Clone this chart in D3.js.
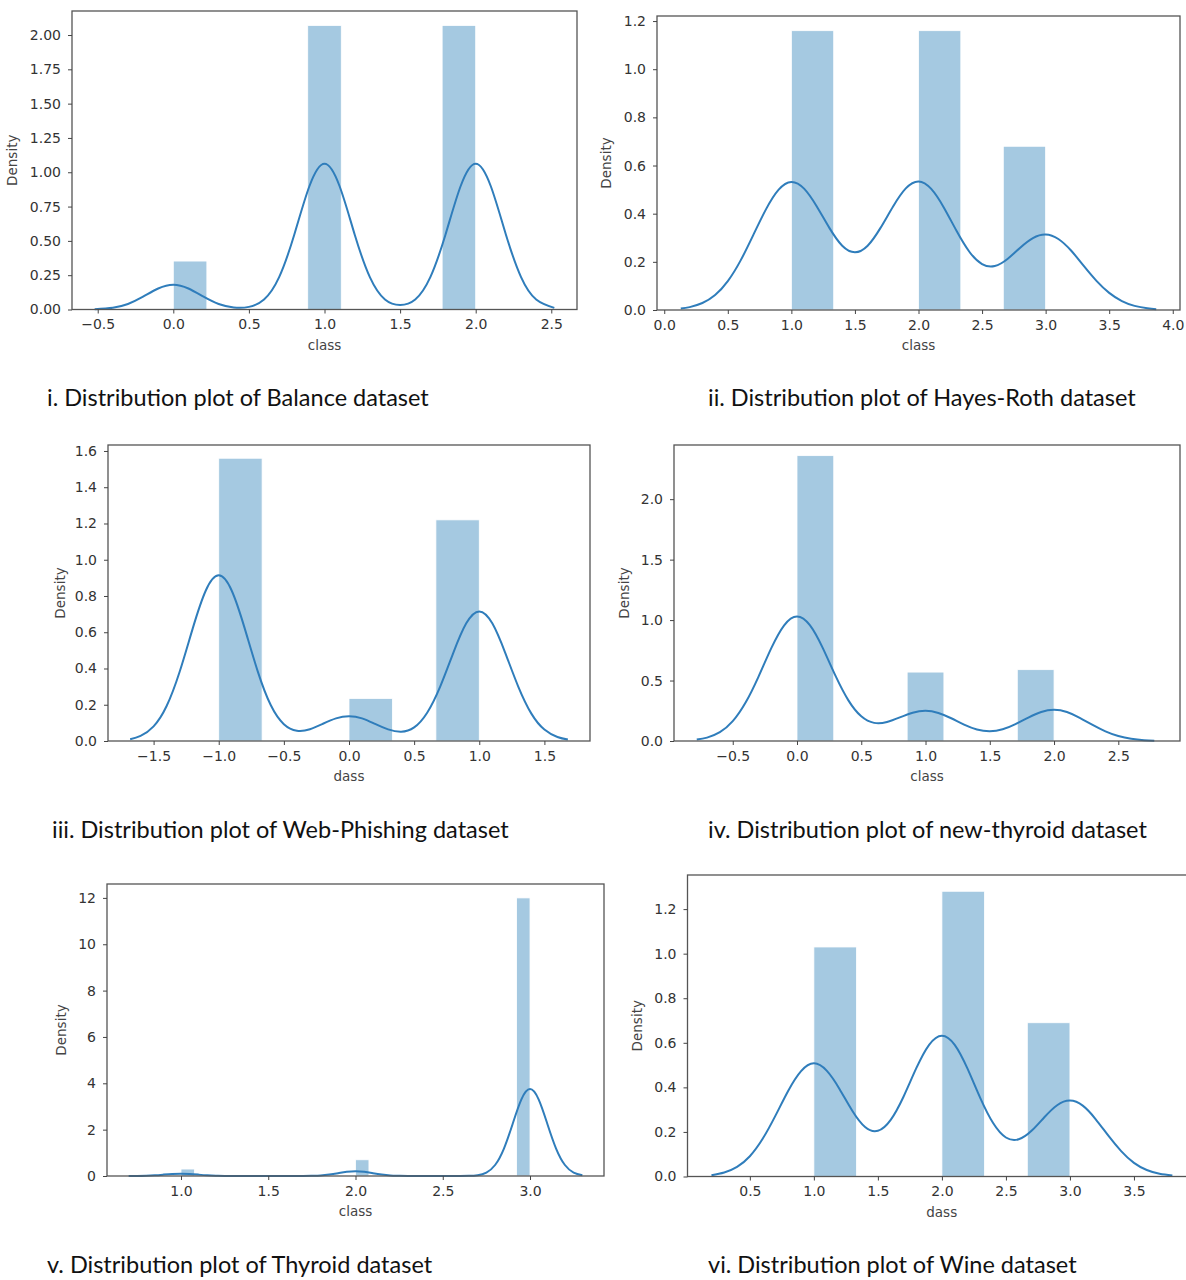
<!DOCTYPE html>
<html>
<head>
<meta charset="utf-8">
<script src="https://cdn.jsdelivr.net/npm/d3@7"></script>
<style>
  body { margin: 0; background: #fff; }
  .tick text { font-family: "DejaVu Sans", sans-serif; font-size: 14px; fill: #333; }
  .axlabel { font-family: "DejaVu Sans", sans-serif; font-size: 13.5px; fill: #444; }
  .caption { font-family: Lato, "Open Sans", sans-serif; font-size: 23.5px; fill: #111; }
</style>
</head>
<body>
<script>
// ---- data ----

// i. Balance
const balanceBins = [[0, 0.222], [0.889, 1.111], [1.778, 2.0]];
const balanceHeights = [0.353, 2.07, 2.07];
const balanceKde = [[-0.52, 0.002], [-0.4, 0.013], [-0.3, 0.040], [-0.2, 0.093], [-0.1, 0.153], [0, 0.181],
  [0.1, 0.153], [0.2, 0.093], [0.3, 0.040], [0.4, 0.015], [0.5, 0.019], [0.6, 0.073], [0.7, 0.236],
  [0.8, 0.545], [0.9, 0.898], [1.0, 1.062], [1.1, 0.898], [1.2, 0.545], [1.3, 0.236], [1.4, 0.073],
  [1.5, 0.033], [1.6, 0.073], [1.7, 0.236], [1.8, 0.545], [1.9, 0.898], [2.0, 1.062], [2.1, 0.898],
  [2.2, 0.545], [2.3, 0.236], [2.4, 0.073], [2.52, 0.012]];
const balanceXTicks = [-0.5, 0, 0.5, 1, 1.5, 2, 2.5];
const balanceYTicks = [0, 0.25, 0.5, 0.75, 1, 1.25, 1.5, 1.75, 2];

// ii. Hayes-Roth
const hayesBins = [[1, 1.333], [2, 2.333], [2.667, 3]];
const hayesHeights = [1.16, 1.16, 0.68];
const hayesKde = [[0.13, 0.006], [0.2, 0.012], [0.3, 0.029], [0.4, 0.062], [0.5, 0.120], [0.6, 0.205],
  [0.7, 0.311], [0.8, 0.418], [0.9, 0.500], [1.0, 0.532], [1.1, 0.504], [1.2, 0.430], [1.3, 0.340],
  [1.4, 0.267], [1.5, 0.240], [1.6, 0.267], [1.7, 0.340], [1.8, 0.430], [1.9, 0.505], [2.0, 0.534],
  [2.1, 0.503], [2.2, 0.425], [2.3, 0.328], [2.4, 0.242], [2.5, 0.191], [2.6, 0.183], [2.7, 0.212],
  [2.8, 0.259], [2.9, 0.299], [3.0, 0.314], [3.1, 0.295], [3.2, 0.247], [3.3, 0.183], [3.4, 0.121],
  [3.5, 0.071], [3.6, 0.037], [3.7, 0.017], [3.8, 0.007], [3.87, 0.0035]];
const hayesXTicks = [0, 0.5, 1, 1.5, 2, 2.5, 3, 3.5, 4];
const hayesYTicks = [0, 0.2, 0.4, 0.6, 0.8, 1.0, 1.2];

// iii. Web-Phishing
const phishBins = [[-1, -0.667], [0, 0.333], [0.667, 1]];
const phishHeights = [1.56, 0.235, 1.22];
const phishKde = [[-1.68, 0.010], [-1.6, 0.028], [-1.5, 0.081], [-1.4, 0.193], [-1.3, 0.382], [-1.2, 0.620],
  [-1.1, 0.829], [-1.0, 0.914], [-0.9, 0.829], [-0.8, 0.620], [-0.7, 0.383], [-0.6, 0.197], [-0.5, 0.093],
  [-0.4, 0.057], [-0.3, 0.065], [-0.2, 0.095], [-0.1, 0.125], [0, 0.137], [0.1, 0.125], [0.2, 0.094],
  [0.3, 0.064], [0.4, 0.051], [0.5, 0.075], [0.6, 0.156], [0.7, 0.300], [0.8, 0.485], [0.9, 0.649],
  [1.0, 0.715], [1.1, 0.649], [1.2, 0.485], [1.3, 0.299], [1.4, 0.151], [1.5, 0.063], [1.6, 0.022], [1.68, 0.008]];
const phishXTicks = [-1.5, -1, -0.5, 0, 0.5, 1, 1.5];
const phishYTicks = [0, 0.2, 0.4, 0.6, 0.8, 1.0, 1.2, 1.4, 1.6];

// iv. new-thyroid
const newThyBins = [[0, 0.286], [0.857, 1.143], [1.714, 2.0]];
const newThyHeights = [2.36, 0.57, 0.59];
const newThyKde = [[-0.78, 0.012], [-0.7, 0.028], [-0.6, 0.073], [-0.5, 0.164], [-0.4, 0.318], [-0.3, 0.531],
  [-0.2, 0.768], [-0.1, 0.957], [0, 1.030], [0.1, 0.958], [0.2, 0.770], [0.3, 0.538], [0.4, 0.336],
  [0.5, 0.204], [0.6, 0.150], [0.7, 0.157], [0.8, 0.195], [0.9, 0.234], [1.0, 0.250], [1.1, 0.232],
  [1.2, 0.188], [1.3, 0.135], [1.4, 0.095], [1.5, 0.081], [1.6, 0.097], [1.7, 0.140], [1.8, 0.194],
  [1.9, 0.240], [2.0, 0.258], [2.1, 0.240], [2.2, 0.192], [2.3, 0.133], [2.4, 0.080], [2.5, 0.041],
  [2.6, 0.018], [2.7, 0.007], [2.78, 0.003]];
const newThyXTicks = [-0.5, 0, 0.5, 1, 1.5, 2, 2.5];
const newThyYTicks = [0, 0.5, 1.0, 1.5, 2.0];

// v. Thyroid
const thyBins = [[1, 1.077], [2, 2.077], [2.923, 3]];
const thyHeights = [0.30, 0.70, 12.0];
const thyKde = [[0.7, 0.001], [0.75, 0.004], [0.8, 0.013], [0.85, 0.031], [0.9, 0.060], [0.95, 0.088],
  [1.0, 0.100], [1.05, 0.088], [1.1, 0.060], [1.15, 0.031], [1.2, 0.013], [1.25, 0.004], [1.3, 0.001],
  [1.5, 0.0], [1.7, 0.002], [1.75, 0.008], [1.8, 0.026], [1.85, 0.064], [1.9, 0.122], [1.95, 0.180],
  [2.0, 0.205], [2.05, 0.180], [2.1, 0.122], [2.15, 0.064], [2.2, 0.026], [2.25, 0.008], [2.3, 0.002],
  [2.5, 0.0], [2.6, 0.001], [2.65, 0.007], [2.7, 0.036], [2.75, 0.149], [2.8, 0.475], [2.85, 1.174],
  [2.9, 2.235], [2.95, 3.296], [3.0, 3.75], [3.05, 3.296], [3.1, 2.235], [3.15, 1.174], [3.2, 0.475],
  [3.25, 0.149], [3.3, 0.036]];
const thyXTicks = [1, 1.5, 2, 2.5, 3];
const thyYTicks = [0, 2, 4, 6, 8, 10, 12];

// vi. Wine
const wineBins = [[1, 1.333], [2, 2.333], [2.667, 3]];
const wineHeights = [1.03, 1.28, 0.69];
const wineKde = [[0.2, 0.006], [0.3, 0.018], [0.4, 0.043], [0.5, 0.091], [0.6, 0.169], [0.7, 0.273],
  [0.8, 0.385], [0.9, 0.473], [1.0, 0.508], [1.1, 0.475], [1.2, 0.393], [1.3, 0.295], [1.4, 0.222],
  [1.5, 0.205], [1.6, 0.254], [1.7, 0.358], [1.8, 0.486], [1.9, 0.591], [2.0, 0.632], [2.1, 0.591],
  [2.2, 0.484], [2.3, 0.352], [2.4, 0.240], [2.5, 0.175], [2.6, 0.167], [2.7, 0.205], [2.8, 0.266],
  [2.9, 0.320], [3.0, 0.341], [3.1, 0.318], [3.2, 0.258], [3.3, 0.183], [3.4, 0.114], [3.5, 0.061],
  [3.6, 0.029], [3.7, 0.012], [3.8, 0.004]];
const wineXTicks = [0.5, 1, 1.5, 2, 2.5, 3, 3.5];
const wineYTicks = [0, 0.2, 0.4, 0.6, 0.8, 1.0, 1.2];

const captions = [
  "i. Distribution plot of Balance dataset",
  "ii. Distribution plot of Hayes-Roth dataset",
  "iii. Distribution plot of Web-Phishing dataset",
  "iv. Distribution plot of new-thyroid dataset",
  "v. Distribution plot of Thyroid dataset",
  "vi. Distribution plot of Wine dataset"
];

// ---- layout (pixel boxes, axis limits) ----
const panels = [
  { bins: balanceBins, h: balanceHeights, kde: balanceKde, xt: balanceXTicks, yt: balanceYTicks, yfmt: ".2f", xfmt: ".1f",
    left: 72, right: 577, top: 11, bottom: 309.5, xlim: [-0.67, 2.67], ylim: [0, 2.175], ylab: 60, xlabel: "class",
    cap: [47, 406] },
  { bins: hayesBins, h: hayesHeights, kde: hayesKde, xt: hayesXTicks, yt: hayesYTicks, yfmt: ".1f", xfmt: ".1f",
    left: 657, right: 1180, top: 16, bottom: 310, xlim: [-0.057, 4.057], ylim: [0, 1.221], ylab: 51, xlabel: "class",
    cap: [708, 406] },
  { bins: phishBins, h: phishHeights, kde: phishKde, xt: phishXTicks, yt: phishYTicks, yfmt: ".1f", xfmt: ".1f",
    left: 108, right: 590, top: 445, bottom: 741, xlim: [-1.85, 1.85], ylim: [0, 1.633], ylab: 48, xlabel: "dass",
    cap: [52, 838] },
  { bins: newThyBins, h: newThyHeights, kde: newThyKde, xt: newThyXTicks, yt: newThyYTicks, yfmt: ".1f", xfmt: ".1f",
    left: 674, right: 1180, top: 445, bottom: 741, xlim: [-0.957, 2.98], ylim: [0, 2.448], ylab: 50, xlabel: "class",
    cap: [708, 838] },
  { bins: thyBins, h: thyHeights, kde: thyKde, xt: thyXTicks, yt: thyYTicks, yfmt: "d", xfmt: ".1f",
    left: 107, right: 604, top: 884, bottom: 1176, xlim: [0.576, 3.424], ylim: [0, 12.6], ylab: 46, xlabel: "class",
    cap: [47, 1273] },
  { bins: wineBins, h: wineHeights, kde: wineKde, xt: wineXTicks, yt: wineYTicks, yfmt: ".1f", xfmt: ".1f",
    left: 687.5, right: 1196.7, top: 875, bottom: 1176.5, xlim: [0.013, 3.99], ylim: [0, 1.353], ylab: 50, xlabel: "dass",
    cap: [708, 1273] }
];

const svg = d3.select("body").append("svg")
  .attr("width", 1186)
  .attr("height", 1280);

panels.forEach((p, i) => {
  const x = d3.scaleLinear().domain(p.xlim).range([p.left, p.right]);
  const y = d3.scaleLinear().domain(p.ylim).range([p.bottom, p.top]);
  const g = svg.append("g");

  // histogram bars
  g.selectAll("rect.bar")
    .data(p.bins)
    .enter()
    .append("rect")
    .attr("class", "bar")
    .attr("x", d => x(d[0]))
    .attr("width", d => x(d[1]) - x(d[0]))
    .attr("y", (d, j) => y(p.h[j]))
    .attr("height", (d, j) => y(0) - y(p.h[j]))
    .attr("fill", "#1f77b4")
    .attr("fill-opacity", 0.4)
    .attr("stroke", "#fff")
    .attr("stroke-width", 0.8);

  // kde line
  const line = d3.line()
    .x(d => x(d[0]))
    .y(d => y(d[1]))
    .curve(d3.curveNatural);
  g.append("path")
    .datum(p.kde)
    .attr("d", line)
    .attr("fill", "none")
    .attr("stroke", "#2f7dbb")
    .attr("stroke-width", 2);

  // frame
  g.append("rect")
    .attr("x", p.left)
    .attr("y", p.top)
    .attr("width", p.right - p.left)
    .attr("height", p.bottom - p.top)
    .attr("fill", "none")
    .attr("stroke", "#555")
    .attr("stroke-width", 1.3);

  // axes
  const xAxis = g.append("g")
    .attr("transform", `translate(0,${p.bottom})`)
    .call(d3.axisBottom(x).tickValues(p.xt).tickFormat(d3.format(p.xfmt)).tickSize(4).tickPadding(6));
  const yAxis = g.append("g")
    .attr("transform", `translate(${p.left},0)`)
    .call(d3.axisLeft(y).tickValues(p.yt).tickFormat(d3.format(p.yfmt)).tickSize(4).tickPadding(7));
  [xAxis, yAxis].forEach(a => {
    a.select(".domain").remove();
    a.selectAll(".tick line").attr("stroke", "#444").attr("stroke-width", 1);
  });

  // axis labels
  g.append("text")
    .attr("class", "axlabel")
    .attr("x", (p.left + Math.min(p.right, 1186)) / 2 + (i === 5 ? 5 : 0))
    .attr("y", p.bottom + 40)
    .attr("text-anchor", "middle")
    .text(p.xlabel);
  g.append("text")
    .attr("class", "axlabel")
    .attr("transform", `translate(${p.left - p.ylab},${(p.top + p.bottom) / 2}) rotate(-90)`)
    .attr("text-anchor", "middle")
    .attr("dy", "0.35em")
    .text("Density");

  // caption
  svg.append("text")
    .attr("class", "caption")
    .attr("x", p.cap[0])
    .attr("y", p.cap[1])
    .text(captions[i]);
});
</script>
</body>
</html>
